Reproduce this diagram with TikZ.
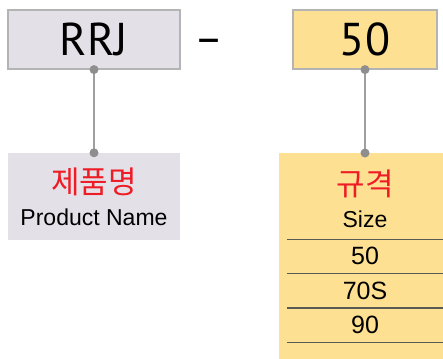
\documentclass[tikz,border=0pt]{standalone}
\usepackage{fontspec}
\setmainfont{Liberation Sans}
\newfontfamily\codefont{PT Sans}
\newfontfamily\krfont{Noto Sans CJK KR}
\usetikzlibrary{positioning}
\definecolor{lavender}{HTML}{E4E0E8}
\definecolor{sand}{HTML}{FEE092}
\definecolor{rimgray}{HTML}{B4B4B4}
\definecolor{pingray}{HTML}{8E8E8E}
\definecolor{rulegray}{HTML}{5A5A55}
\definecolor{krred}{HTML}{EE1C25}
\tikzstyle{code} = [rectangle, text centered, draw=rimgray, line width=1.2pt, minimum width=172pt, minimum height=59pt, inner sep=0pt, font=\codefont\fontsize{46}{46}\selectfont]
\tikzstyle{infobox} = [rectangle, align=center, minimum width=172pt, minimum height=87pt, inner sep=0pt, font=\fontsize{23}{32}\selectfont]
\tikzstyle{row} = [rectangle, text centered, minimum width=156pt, minimum height=34pt, inner sep=0pt, font=\fontsize{25}{25}\selectfont]
\tikzstyle{stem} = [draw=pingray!85, line width=1.8pt]
\tikzstyle{rule} = [draw=rulegray, line width=1.2pt]
\newcommand{\kr}[1]{\textcolor{krred}{\krfont\fontsize{31}{32}\selectfont #1}}

\begin{document}
\begin{tikzpicture}[x=1pt, y=-1pt]
\clip (0,0) rectangle (443,358);

\node (rrj) [code, fill=lavender] at (94,39.5) {RRJ};
\node (dash) [font=\codefont\fontsize{44}{44}\selectfont] at (209,46) {–};
\node (size) [code, fill=sand, minimum width=144pt] at (365,39.5) {50};

\node (name) [infobox, fill=lavender] at (94,196.5) {\kr{제품명}\\Product Name};
\node (table) [infobox, fill=sand, minimum height=215pt, anchor=north] at (365,153) {};
\node (head) [infobox, minimum height=0pt] at (365,199) {\kr{규격}\\Size};

\node (r50) [row] at (365,256.3) {50};
\node (r70s) [row, below=0pt of r50] {70S};
\node (r90) [row, below=0pt of r70s] {90};

\draw [rule] (r50.north west) -- (r50.north east);
\draw [rule] (r70s.north west) -- (r70s.north east);
\draw [rule] (r90.north west) -- (r90.north east);
\draw [rule] (r90.south west) -- (r90.south east);

\draw [stem] (rrj.south) -- (name.north);
\draw [stem] (size.south) -- (table.north);
\fill [pingray] (rrj.south) circle (4.5pt) (name.north) circle (4.5pt);
\fill [pingray] (size.south) circle (4.5pt) (table.north) circle (4.5pt);

\end{tikzpicture}
\end{document}
